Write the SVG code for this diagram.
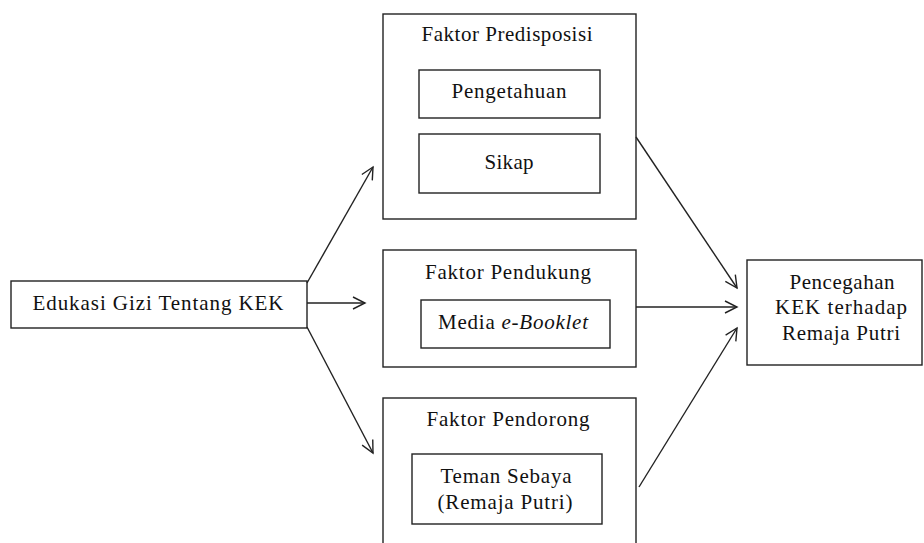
<svg xmlns="http://www.w3.org/2000/svg" width="924" height="543" viewBox="0 0 924 543">
<style>
.box{fill:#fff;stroke:#222;stroke-width:1.4}
.t{font-family:"Liberation Serif","Times New Roman",Times,serif;font-size:21px;fill:#111;text-anchor:middle}
.c{stroke:#222;stroke-width:1.4;fill:none}
</style>
<defs>
<marker id="ah" markerUnits="userSpaceOnUse" markerWidth="16" markerHeight="16" refX="13" refY="7" orient="auto" viewBox="0 0 16 14">
<path d="M1,1 L13,7 L1,13" fill="none" stroke="#222" stroke-width="1.4"/>
</marker>
</defs>
<rect width="924" height="543" fill="#fff"/>
<g id="edukasi">
<rect class="box" x="11" y="281" width="296" height="47"/>
<text class="t" x="158" y="310" textLength="251" lengthAdjust="spacing">Edukasi Gizi Tentang KEK</text>
</g>
<g id="predisposisi">
<rect class="box" x="383" y="14" width="253" height="205"/>
<text class="t" x="507" y="41" textLength="171" lengthAdjust="spacing">Faktor Predisposisi</text>
<rect class="box" x="419" y="70" width="181" height="48"/>
<text class="t" x="509" y="98" textLength="115" lengthAdjust="spacing">Pengetahuan</text>
<rect class="box" x="419" y="134" width="181" height="59"/>
<text class="t" x="509" y="169" textLength="49" lengthAdjust="spacing">Sikap</text>
</g>
<g id="pendukung">
<rect class="box" x="383" y="250" width="253" height="117"/>
<text class="t" x="508" y="279" textLength="166" lengthAdjust="spacing">Faktor Pendukung</text>
<rect class="box" x="421" y="300" width="189" height="48"/>
<text class="t" x="513" y="329" textLength="150" lengthAdjust="spacing">Media <tspan font-style="italic">e-Booklet</tspan></text>
</g>
<g id="pendorong">
<rect class="box" x="383" y="398" width="253" height="170"/>
<text class="t" x="508" y="426" textLength="163" lengthAdjust="spacing">Faktor Pendorong</text>
<rect class="box" x="412" y="454" width="190" height="70"/>
<text class="t" x="506" y="483" textLength="131" lengthAdjust="spacing">Teman Sebaya</text>
<text class="t" x="505" y="509" textLength="135" lengthAdjust="spacing">(Remaja Putri)</text>
</g>
<g id="pencegahan">
<rect class="box" x="747" y="260" width="175" height="105"/>
<text class="t" x="842" y="289" textLength="105" lengthAdjust="spacing">Pencegahan</text>
<text class="t" x="841" y="314" textLength="132" lengthAdjust="spacing">KEK terhadap</text>
<text class="t" x="841" y="340" textLength="118" lengthAdjust="spacing">Remaja Putri</text>
</g>
<g id="connectors">
<line class="c" x1="307" y1="283" x2="373" y2="167" marker-end="url(#ah)"/>
<line class="c" x1="307" y1="303" x2="365" y2="303" marker-end="url(#ah)"/>
<line class="c" x1="307" y1="327" x2="373" y2="453" marker-end="url(#ah)"/>
<line class="c" x1="636" y1="137" x2="737" y2="288" marker-end="url(#ah)"/>
<line class="c" x1="636" y1="307" x2="737" y2="307" marker-end="url(#ah)"/>
<line class="c" x1="639" y1="487" x2="737" y2="328" marker-end="url(#ah)"/>
</g>
</svg>
